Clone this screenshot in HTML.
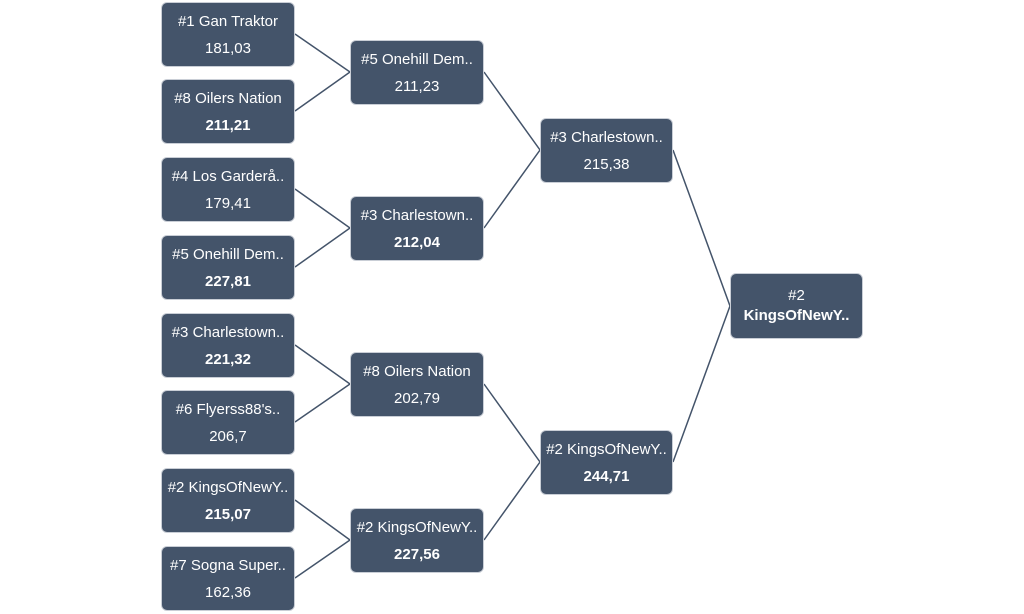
<!DOCTYPE html>
<html><head><meta charset="utf-8"><style>
body{margin:0;width:1024px;height:614px;background:#fff;position:relative;overflow:hidden;font-family:"Liberation Sans",sans-serif;}
.b{position:absolute;background:#44546a;border:1px solid #c9ced6;border-radius:6px;color:#fff;font-size:15px;text-align:center;box-sizing:border-box;display:flex;flex-direction:column;justify-content:center;line-height:27px;}
.b b{font-weight:bold}
svg{position:absolute;left:0;top:0}
</style></head><body>
<svg width="1024" height="614"><g stroke="#44546a" stroke-width="1.5" fill="none">
<polyline points="295,34 350,72 295,111"/>
<polyline points="295,189 350,228 295,267"/>
<polyline points="295,345 350,384 295,422"/>
<polyline points="295,500 350,540 295,578"/>
<polyline points="484,72 540,150 484,228"/>
<polyline points="484,384 540,462 484,540"/>
<polyline points="673,150 730,306 673,462"/>
</g></svg>
<div class="b" style="left:161px;top:2px;width:134px;height:65px"><div>#1 Gan Traktor</div><div>181,03</div></div>
<div class="b" style="left:161px;top:79px;width:134px;height:65px"><div>#8 Oilers Nation</div><div><b>211,21</b></div></div>
<div class="b" style="left:161px;top:157px;width:134px;height:65px"><div>#4 Los Garderå..</div><div>179,41</div></div>
<div class="b" style="left:161px;top:235px;width:134px;height:65px"><div>#5 Onehill Dem..</div><div><b>227,81</b></div></div>
<div class="b" style="left:161px;top:313px;width:134px;height:65px"><div>#3 Charlestown..</div><div><b>221,32</b></div></div>
<div class="b" style="left:161px;top:390px;width:134px;height:65px"><div>#6 Flyerss88's..</div><div>206,7</div></div>
<div class="b" style="left:161px;top:468px;width:134px;height:65px"><div>#2 KingsOfNewY..</div><div><b>215,07</b></div></div>
<div class="b" style="left:161px;top:546px;width:134px;height:65px"><div>#7 Sogna Super..</div><div>162,36</div></div>
<div class="b" style="left:350px;top:40px;width:134px;height:65px"><div>#5 Onehill Dem..</div><div>211,23</div></div>
<div class="b" style="left:350px;top:196px;width:134px;height:65px"><div>#3 Charlestown..</div><div><b>212,04</b></div></div>
<div class="b" style="left:350px;top:352px;width:134px;height:65px"><div>#8 Oilers Nation</div><div>202,79</div></div>
<div class="b" style="left:350px;top:508px;width:134px;height:65px"><div>#2 KingsOfNewY..</div><div><b>227,56</b></div></div>
<div class="b" style="left:540px;top:118px;width:133px;height:65px"><div>#3 Charlestown..</div><div>215,38</div></div>
<div class="b" style="left:540px;top:430px;width:133px;height:65px"><div>#2 KingsOfNewY..</div><div><b>244,71</b></div></div>
<div class="b" style="left:730px;top:273px;width:133px;height:66px;line-height:20px"><div>#2</div><div><b>KingsOfNewY..</b></div></div>
</body></html>
